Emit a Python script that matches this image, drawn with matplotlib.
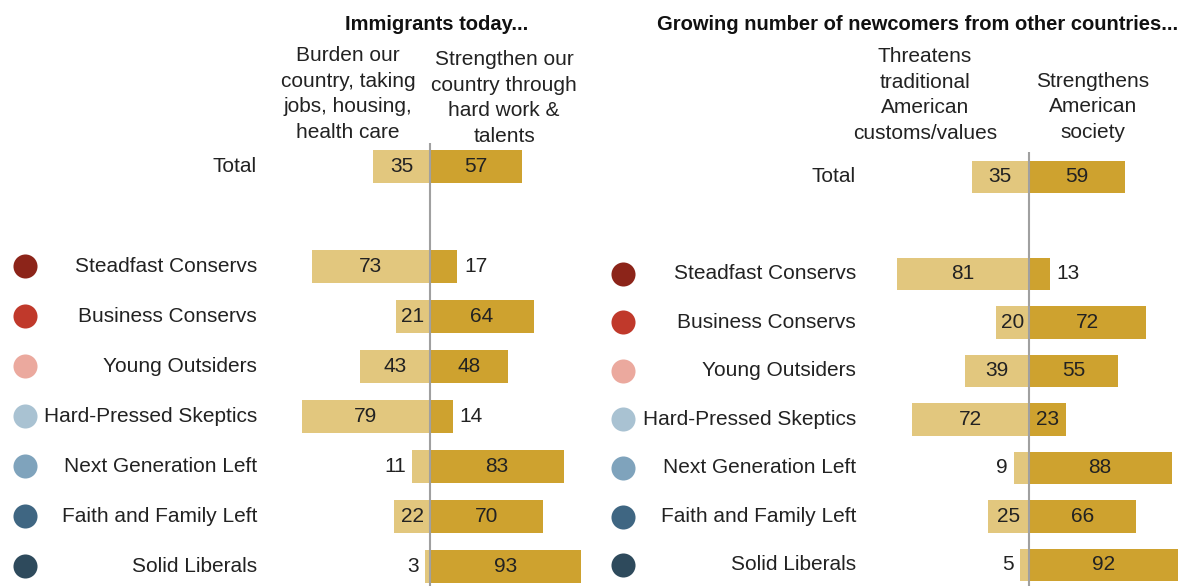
import numpy as np
import matplotlib.pyplot as plt
import matplotlib.transforms as mtransforms

# data
groups = ["Total", "Steadfast Conservs", "Business Conservs", "Young Outsiders",
          "Hard-Pressed Skeptics", "Next Generation Left", "Faith and Family Left",
          "Solid Liberals"]
dot_colors = [None, "#8C2419", "#C0392B", "#EBA99E", "#A9C2D2", "#7FA3BC", "#3F6682", "#2E4A5C"]

burden = [35, 73, 21, 43, 79, 11, 22, 3]
strengthen = [57, 17, 64, 48, 14, 83, 70, 93]
threatens = [35, 81, 20, 39, 72, 9, 25, 5]
strengthens_soc = [59, 13, 72, 55, 23, 88, 66, 92]

titles = ["Immigrants today...", "Growing number of newcomers from other countries..."]
headers_left = ["Burden our\ncountry, taking\njobs, housing,\nhealth care",
                "Strengthen our\ncountry through\nhard work &\ntalents"]
headers_right = ["Threatens\ntraditional\nAmerican\ncustoms/values",
                 "Strengthens\nAmerican\nsociety"]

LIGHT = "#E2C77E"
DARK = "#CEA22F"
TXT = "#222222"
FONT = ["Liberation Sans", "DejaVu Sans"]
FS = 15

W, H = 1188, 586
plt.rcParams['font.family'] = FONT
fig = plt.figure(figsize=(W / 100, H / 100), dpi=100)
fig.patch.set_facecolor("white")

ypos = np.array([0, 2, 3, 4, 5, 6, 7, 8])


def px(x, y):
    return x / W, 1 - y / H


def panel(x0, x1, y_top, y_row0, step, xlim, neg, pos, lab_x, dot_x):
    # axes placed in pixel space, data units keep 1.62 px per percentage point
    top_idx = -(y_row0 - y_top) / step
    bot_idx = (H - y_row0) / step
    ax = fig.add_axes([x0 / W, 0, (x1 - x0) / W, (H - y_top) / H])
    ax.set_xlim(*xlim)
    ax.set_ylim(bot_idx, top_idx)
    ax.axis("off")
    ax.barh(ypos, [-v for v in neg], height=0.66, color=LIGHT, edgecolor="none")
    ax.barh(ypos, pos, height=0.66, color=DARK, edgecolor="none")
    ax.axvline(0, color="#A0A0A0", lw=1.5)
    for y, n, p in zip(ypos, neg, pos):
        if n >= 19:
            ax.text(-n / 2, y, str(n), ha="center", va="center", fontsize=FS, color=TXT)
        else:
            ax.text(-n - 4, y, str(n), ha="right", va="center", fontsize=FS, color=TXT)
        if p >= 19:
            ax.text(p / 2, y, str(p), ha="center", va="center", fontsize=FS, color=TXT)
        else:
            ax.text(p + 4, y, str(p), ha="left", va="center", fontsize=FS, color=TXT)
    blend = mtransforms.blended_transform_factory(fig.transFigure, ax.transData)
    for y, g, c in zip(ypos, groups, dot_colors):
        ax.text(lab_x / W, y, g, ha="right", va="center", fontsize=FS,
                color=TXT, transform=blend, clip_on=False)
        if c is not None:
            ax.scatter([dot_x / W], [y], s=300, color=c, transform=blend,
                       clip_on=False, linewidths=0)
    return ax


panel(268, 600, 143, 166, 50.0, (-100, 105), burden, strengthen, 257, 25)
panel(866, 1188, 152, 177, 48.5, (-100, 98), threatens, strengthens_soc, 856, 623)

fig.text(*px(437, 24), titles[0], ha="center", va="center", fontsize=14.5,
         fontweight="bold", color="#111111")
fig.text(*px(918, 24), titles[1], ha="center", va="center", fontsize=14.5,
         fontweight="bold", color="#111111")

for (x, y), s in zip([(348, 94), (504, 98)], headers_left):
    fig.text(*px(x, y), s, ha="center", va="center", fontsize=FS,
             color=TXT, linespacing=1.45)
for (x, y), s in zip([(925, 95), (1093, 107)], headers_right):
    fig.text(*px(x, y), s, ha="center", va="center", fontsize=FS,
             color=TXT, linespacing=1.45)

fig.savefig("out.png", dpi=100, facecolor="white")
